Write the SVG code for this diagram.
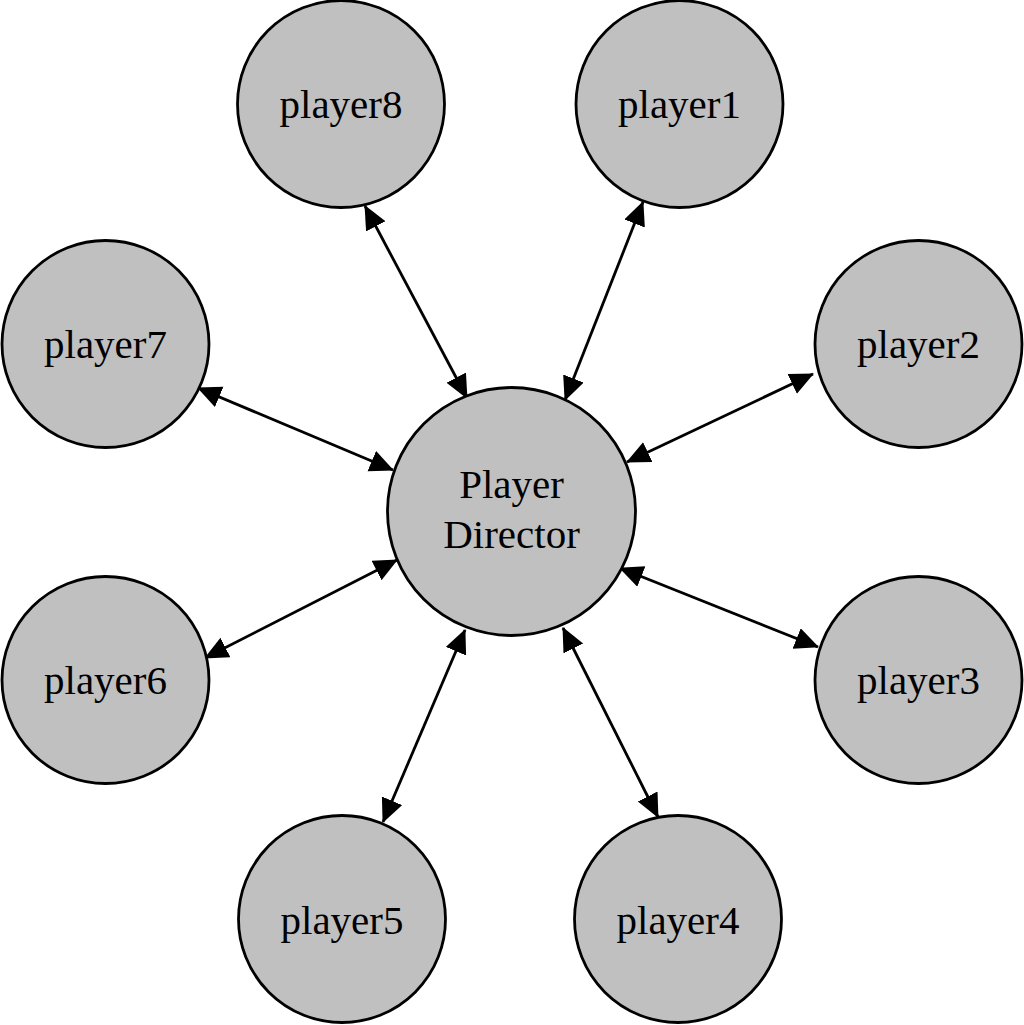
<svg xmlns="http://www.w3.org/2000/svg" width="1024" height="1025" viewBox="0 0 1024 1025">
  <style>
    .node circle { fill: #c0c0c0; stroke: #000; stroke-width: 2.8; }
    .node text { font-family: "Liberation Serif", "Times New Roman", serif; font-size: 41px; fill: #000; text-anchor: middle; }
    .link { stroke: #000; stroke-width: 2.8; fill: none; marker-start: url(#tip); marker-end: url(#tip); }
  </style>
  <defs>
    <marker id="tip" markerUnits="userSpaceOnUse" markerWidth="26" markerHeight="24" refX="23" refY="11" orient="auto-start-reverse">
      <path d="M0,0 L24,11 L0,22 Z" fill="#000"/>
    </marker>
  </defs>
  <rect width="1024" height="1025" fill="#fff"/>

  <g id="connectors">
    <line class="link" x1="365" y1="206" x2="467" y2="398"/>
    <line class="link" x1="643" y1="202" x2="565" y2="400"/>
    <line class="link" x1="813" y1="374" x2="627" y2="462"/>
    <line class="link" x1="198" y1="388" x2="393" y2="470"/>
    <line class="link" x1="205" y1="658" x2="397" y2="560"/>
    <line class="link" x1="818" y1="647" x2="620" y2="568"/>
    <line class="link" x1="383" y1="822" x2="465" y2="630"/>
    <line class="link" x1="658" y1="817" x2="563" y2="628"/>
  </g>

  <g id="director" class="node">
    <circle cx="511.5" cy="511.5" r="124"/>
    <text x="511.5" y="498">Player</text>
    <text x="511.5" y="548">Director</text>
  </g>
  <g id="player1" class="node">
    <circle cx="679.5" cy="104" r="103.5"/>
    <text x="679.5" y="118">player1</text>
  </g>
  <g id="player2" class="node">
    <circle cx="918.5" cy="344" r="103.5"/>
    <text x="918.5" y="358">player2</text>
  </g>
  <g id="player3" class="node">
    <circle cx="918.5" cy="680" r="103.5"/>
    <text x="918.5" y="694">player3</text>
  </g>
  <g id="player4" class="node">
    <circle cx="678" cy="919" r="103.5"/>
    <text x="678" y="934">player4</text>
  </g>
  <g id="player5" class="node">
    <circle cx="342" cy="919" r="103.5"/>
    <text x="342" y="934">player5</text>
  </g>
  <g id="player6" class="node">
    <circle cx="105.5" cy="680" r="103.5"/>
    <text x="105.5" y="694">player6</text>
  </g>
  <g id="player7" class="node">
    <circle cx="105.5" cy="344" r="103.5"/>
    <text x="105.5" y="358">player7</text>
  </g>
  <g id="player8" class="node">
    <circle cx="341" cy="104" r="103.5"/>
    <text x="341" y="118">player8</text>
  </g>
</svg>
